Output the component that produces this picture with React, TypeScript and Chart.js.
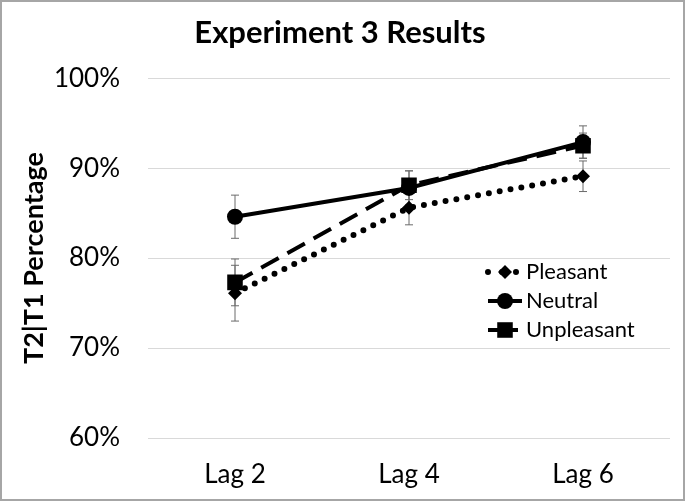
import React, { useEffect, useRef } from "react";
import { Chart, registerables } from "chart.js";

Chart.register(...registerables);

const categories = ["Lag 2", "Lag 4", "Lag 6"];
const pleasant = [76.1, 85.6, 89.1];
const neutral = [84.6, 87.8, 92.9];
const unpleasant = [77.3, 88.1, 92.5];
const pleasantErr = [3.1, 1.9, 1.7];
const neutralErr = [2.4, 1.9, 1.8];
const unpleasantErr = [2.6, 1.6, 1.4];
const yTicks = [60, 70, 80, 90, 100];

const FONT = "Lato, 'Open Sans', sans-serif";

const errorBars = {
  id: "errorBars",
  beforeDatasetsDraw(chart: any) {
    const ctx = chart.ctx;
    const y = chart.scales.y;
    ctx.save();
    ctx.strokeStyle = "#6b6b6b";
    ctx.lineWidth = 1;
    chart.data.datasets.forEach((ds: any, di: number) => {
      const meta = chart.getDatasetMeta(di);
      ds.data.forEach((v: number, i: number) => {
        const e = ds.errors[i];
        const px = meta.data[i].x;
        const top = y.getPixelForValue(v + e);
        const bot = y.getPixelForValue(v - e);
        ctx.beginPath();
        ctx.moveTo(px, top);
        ctx.lineTo(px, bot);
        ctx.moveTo(px - 4, top);
        ctx.lineTo(px + 4, top);
        ctx.moveTo(px - 4, bot);
        ctx.lineTo(px + 4, bot);
        ctx.stroke();
      });
    });
    ctx.restore();
  },
};

const frame = {
  id: "frame",
  beforeDraw(chart: any) {
    const ctx = chart.ctx;
    ctx.save();
    ctx.fillStyle = "#ffffff";
    ctx.fillRect(0, 0, chart.width, chart.height);
    ctx.strokeStyle = "#a6a6a6";
    ctx.lineWidth = 2;
    ctx.strokeRect(1, 1, chart.width - 2, chart.height - 2);
    ctx.restore();
  },
};

function drawMarker(ctx: any, style: string, r: number, x: number, y: number) {
  ctx.beginPath();
  if (style === "circle") {
    ctx.arc(x, y, r, 0, Math.PI * 2);
  } else if (style === "rect") {
    const s = Math.SQRT1_2 * r;
    ctx.rect(x - s, y - s, 2 * s, 2 * s);
  } else {
    ctx.moveTo(x, y - r);
    ctx.lineTo(x + r, y);
    ctx.lineTo(x, y + r);
    ctx.lineTo(x - r, y);
    ctx.closePath();
  }
  ctx.fill();
}

const customLegend = {
  id: "customLegend",
  afterDraw(chart: any) {
    const ctx = chart.ctx;
    const startX = 488;
    const endX = 522;
    const rows = [272, 301, 330];
    ctx.save();
    chart.data.datasets.forEach((ds: any, i: number) => {
      const yy = rows[i];
      ctx.save();
      ctx.strokeStyle = "#000";
      ctx.lineWidth = ds.borderWidth;
      ctx.lineCap = ds.borderCapStyle || "butt";
      ctx.setLineDash(ds.legendDash || []);
      ctx.beginPath();
      ctx.moveTo(startX, yy);
      ctx.lineTo(endX, yy);
      ctx.stroke();
      ctx.restore();
      ctx.fillStyle = "#000";
      drawMarker(ctx, ds.pointStyle, ds.pointRadius, (startX + endX) / 2, yy);
      ctx.fillStyle = "#000";
      ctx.font = `22px ${FONT}`;
      ctx.textBaseline = "middle";
      ctx.textAlign = "left";
      ctx.fillText(ds.label, 526, yy);
    });
    ctx.restore();
  },
};

export default function App() {
  const ref = useRef<HTMLCanvasElement>(null);
  useEffect(() => {
    document.body.style.margin = "0";
    const chart = new Chart(ref.current as HTMLCanvasElement, {
      type: "line",
      data: {
        labels: categories,
        datasets: [
          {
            label: "Pleasant",
            data: pleasant,
            errors: pleasantErr,
            borderColor: "#000",
            backgroundColor: "#000",
            borderWidth: 6,
            borderDash: [0, 11],
            legendDash: [0, 14],
            borderCapStyle: "round",
            pointStyle: "rectRot",
            pointRadius: 7,
            pointBorderWidth: 0,
            pointBackgroundColor: "#000",
          } as any,
          {
            label: "Neutral",
            data: neutral,
            errors: neutralErr,
            borderColor: "#000",
            backgroundColor: "#000",
            borderWidth: 4,
            pointStyle: "circle",
            pointRadius: 8,
            pointBorderWidth: 0,
            pointBackgroundColor: "#000",
          } as any,
          {
            label: "Unpleasant",
            data: unpleasant,
            errors: unpleasantErr,
            borderColor: "#000",
            backgroundColor: "#000",
            borderWidth: 4,
            borderDash: [20, 10],
            legendDash: [12, 6],
            pointStyle: "rect",
            pointRadius: 11,
            pointBorderWidth: 0,
            pointBackgroundColor: "#000",
          } as any,
        ],
      },
      options: {
        animation: false,
        responsive: false,
        layout: { padding: { left: 10, right: 15, top: 0, bottom: 8 } },
        plugins: {
          legend: { display: false },
          tooltip: { enabled: false },
          title: {
            display: true,
            text: "Experiment 3 Results",
            color: "#000",
            font: { family: FONT, size: 31, weight: "bold" },
            padding: { top: 14, bottom: 27 },
          },
        },
        scales: {
          x: {
            offset: true,
            grid: { display: false, drawTicks: false },
            border: { display: false },
            ticks: {
              color: "#000",
              padding: 21,
              font: { family: FONT, size: 26 },
            },
            afterFit(scale: any) {
              scale.height = 501 - 438 - 8;
            },
          },
          y: {
            min: 60,
            max: 100,
            afterBuildTicks(scale: any) {
              scale.ticks = yTicks.map((v) => ({ value: v }));
            },
            grid: { color: "#d9d9d9", lineWidth: 1, drawTicks: false },
            border: { display: false },
            ticks: {
              color: "#000",
              padding: 28,
              font: { family: FONT, size: 26 },
              callback: (v: any) => `${v}%`,
            },
            title: {
              display: true,
              text: "T2|T1 Percentage",
              color: "#000",
              font: { family: FONT, size: 27, weight: "bold" },
              padding: { top: 8, bottom: 0 },
            },
            afterFit(scale: any) {
              scale.width = 148 - 10;
            },
          },
        },
      },
      plugins: [frame, errorBars, customLegend],
    });
    return () => chart.destroy();
  }, []);
  return <canvas ref={ref} width={685} height={501} style={{ display: "block" }} />;
}
